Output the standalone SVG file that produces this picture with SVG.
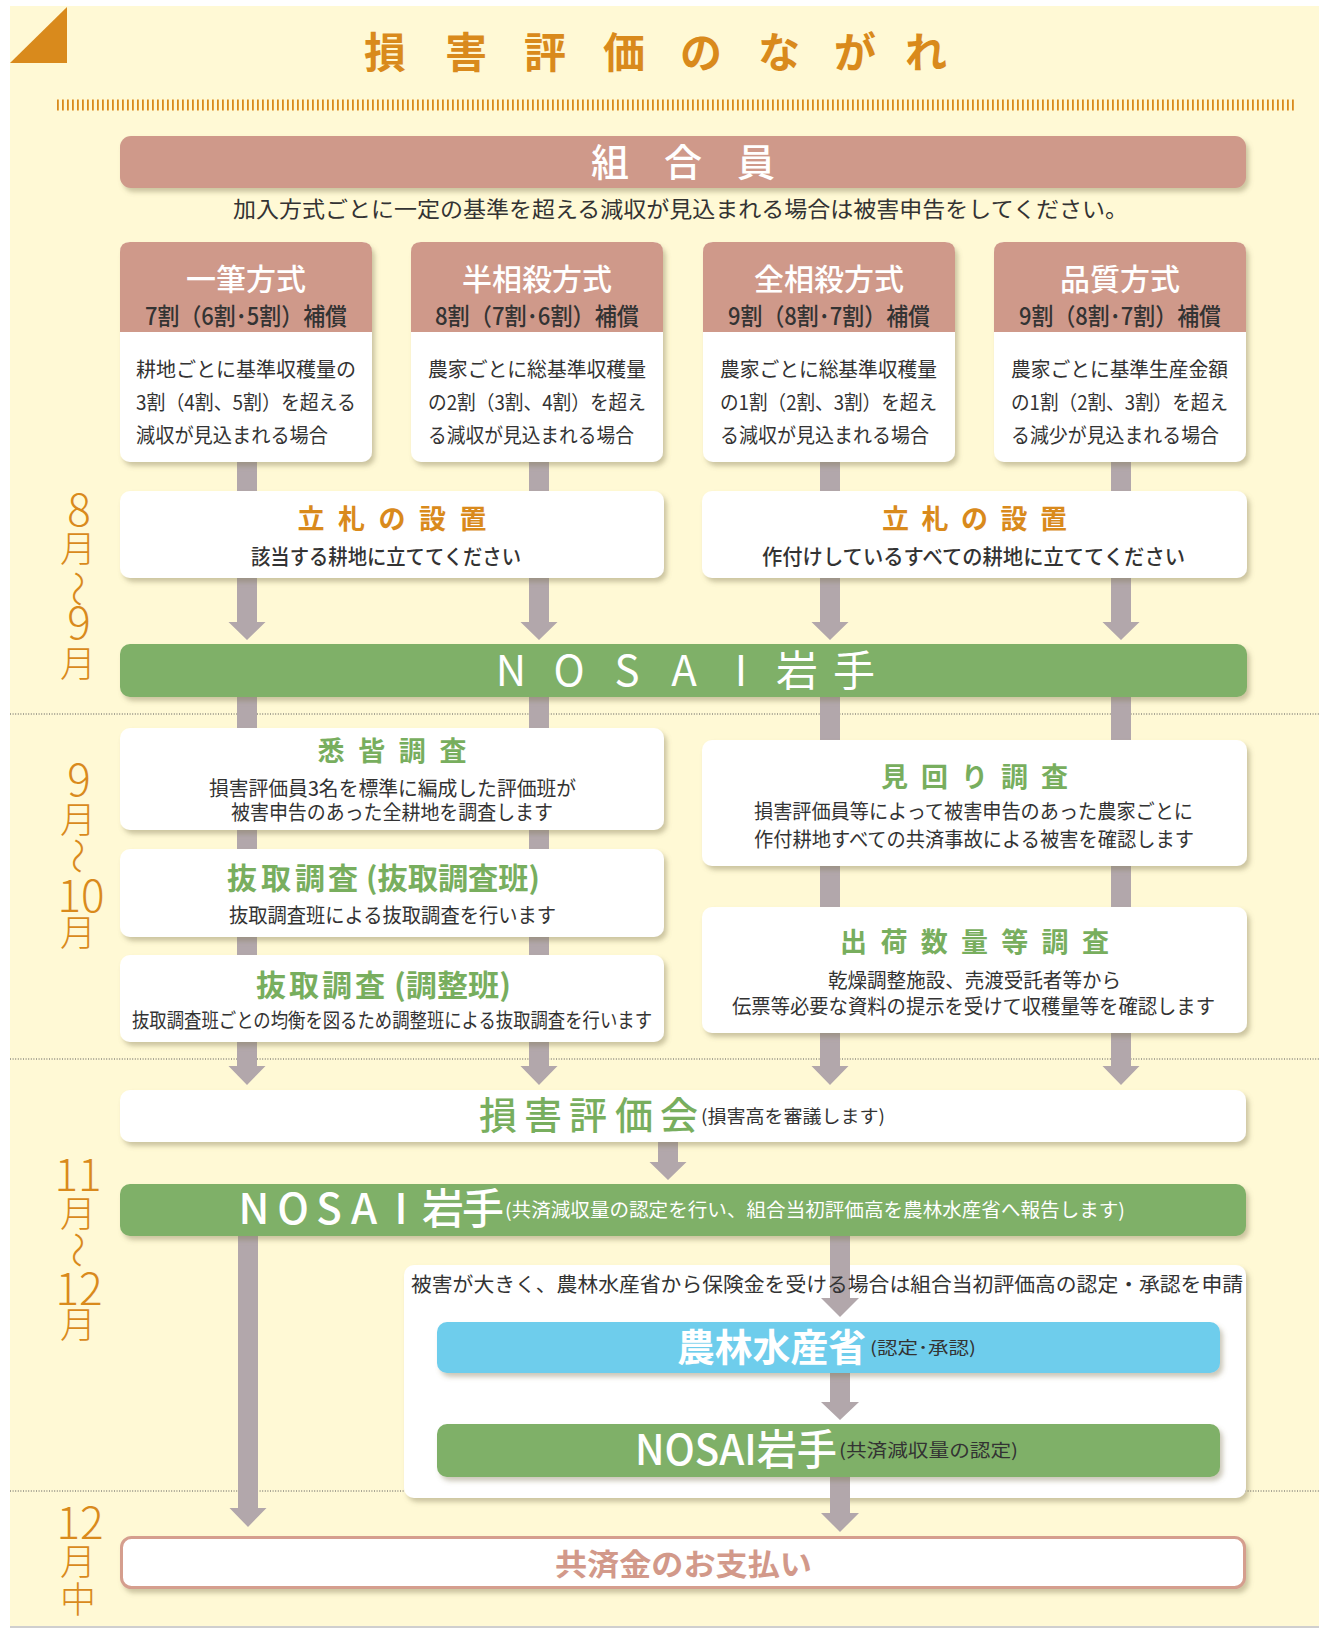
<svg xmlns="http://www.w3.org/2000/svg" width="1319" height="1630" viewBox="0 0 1319 1630">
<defs>
<filter id="sh" x="-5%" y="-20%" width="110%" height="160%">
<feDropShadow dx="3" dy="4" stdDeviation="2.5" flood-color="#7d7350" flood-opacity="0.4"/>
</filter>
<style>
text{font-family:"Noto Sans CJK JP","Noto Sans",sans-serif}
.nar{font-family:"Liberation Sans Narrow","Noto Sans CJK JP",sans-serif}
.wt{fill:#fff}
.dk{fill:#333}
.or{fill:#D98A1C}
.gr{fill:#78AE5E}
.c{text-anchor:middle}
.arr{fill:#B2A7AB}
.mo{fill:#D98A1C;font-weight:300;text-anchor:middle}
.sep{stroke:#555;stroke-width:1;stroke-dasharray:1 1.6}
.box{fill:#fff;filter:url(#sh)}
.sal{fill:#CF998A}
.grn{fill:#7FB068;filter:url(#sh)}
</style>
</defs>
<rect width="1319" height="1630" fill="#fff"/>
<rect x="10" y="6" width="1309" height="1621" fill="#FFF9D5"/>
<line x1="10" y1="1627" x2="1319" y2="1627" stroke="#cfcfcf" stroke-width="2"/>
<polygon points="10,63 67,7 67,63" fill="#D98A1C"/>
<g id="title">
<text class="or c" x="385 466 545 624 701 779 855 926" y="68" font-size="42" font-weight="700">損害評価のながれ</text>
<line x1="57" y1="105" x2="1296" y2="105" stroke="#D98A1C" stroke-width="11" stroke-dasharray="1.8 3.2"/>
</g>
<g id="separators">
<line class="sep" x1="10" y1="714" x2="1319" y2="714"/>
<line class="sep" x1="10" y1="1059" x2="1319" y2="1059"/>
<line class="sep" x1="10" y1="1491" x2="1319" y2="1491"/>
</g>
<g id="months">
<text class="mo" font-size="36"><tspan x="79" y="526" font-size="44">8</tspan><tspan x="78" y="562">月</tspan><tspan x="82" y="571" rotate="90">〜</tspan><tspan x="79" y="639" font-size="44">9</tspan><tspan x="78" y="677">月</tspan></text>
<text class="mo" font-size="36"><tspan x="79" y="796" font-size="44">9</tspan><tspan x="78" y="833">月</tspan><tspan x="82" y="838" rotate="90">〜</tspan><tspan x="81" y="912" font-size="44">10</tspan><tspan x="78" y="946">月</tspan></text>
<text class="mo" font-size="36"><tspan x="78" y="1191" font-size="44">11</tspan><tspan x="78" y="1227">月</tspan><tspan x="82" y="1232" rotate="90">〜</tspan><tspan x="79" y="1305" font-size="44">12</tspan><tspan x="78" y="1338">月</tspan></text>
<text class="mo" font-size="36"><tspan x="80" y="1539" font-size="44">12</tspan><tspan x="78" y="1575">月</tspan><tspan x="78" y="1613">中</tspan></text>
</g>

<g id="n-member">
<rect x="120" y="136" width="1126" height="52" rx="11" class="sal" filter="url(#sh)"/>
<text class="wt c" x="610 683 756" y="176" font-size="38" font-weight="500">組合員</text>
<text class="dk" x="233" y="217" font-size="22" textLength="895" lengthAdjust="spacingAndGlyphs">加入方式ごとに一定の基準を超える減収が見込まれる場合は被害申告をしてください。</text>
</g>

<g id="n-panel">
<rect x="404" y="1265" width="842" height="233" rx="10" class="box"/>
</g>

<g id="connectors">
<path class="arr" d="M237,462H257V622H265.5L247,640L228.5,622H237Z"/>
<path class="arr" d="M529,462H549V622H557.5L539,640L520.5,622H529Z"/>
<path class="arr" d="M820,462H840V622H848.5L830,640L811.5,622H820Z"/>
<path class="arr" d="M1111,462H1131V622H1139.5L1121,640L1102.5,622H1111Z"/>
<path class="arr" d="M237,697H257V1066H265.5L247,1085L228.5,1066H237Z"/>
<path class="arr" d="M529,697H549V1066H557.5L539,1085L520.5,1066H529Z"/>
<path class="arr" d="M820,697H840V1066H848.5L830,1085L811.5,1066H820Z"/>
<path class="arr" d="M1111,697H1131V1066H1139.5L1121,1085L1102.5,1066H1111Z"/>
<path class="arr" d="M658,1142H678V1162H686.5L668,1180L649.5,1162H658Z"/>
<path class="arr" d="M238,1236H258V1508H266.5L248,1527L229.5,1508H238Z"/>
<path class="arr" d="M830,1236H850V1298H859L840,1317L821,1298H830Z"/>
<path class="arr" d="M830,1373H850V1402H859L840,1420L821,1402H830Z"/>
<path class="arr" d="M830,1477H850V1513H859L840,1532L821,1513H830Z"/>
</g>

<g id="n-panel-label">
<text class="dk" x="411" y="1292" font-size="20" textLength="832" lengthAdjust="spacingAndGlyphs">被害が大きく、農林水産省から保険金を受ける場合は組合当初評価高の認定・承認を申請</text>
</g>

<g id="n-ippitsu">
<rect x="120" y="242" width="252" height="220" rx="10" class="box"/>
<path class="sal" d="M120,332V252Q120,242 130,242H362Q372,242 372,252V332Z"/>
<text class="wt c" x="246" y="290" font-size="30" font-weight="500">一筆方式</text>
<text class="dk c" x="246" y="325" font-size="24" font-weight="500" textLength="202" lengthAdjust="spacingAndGlyphs">7割（6割･5割）補償</text>
<text class="dk" x="136" y="377" font-size="20" textLength="220" lengthAdjust="spacingAndGlyphs">耕地ごとに基準収穫量の</text>
<text class="dk" x="136" y="410" font-size="20" textLength="220" lengthAdjust="spacingAndGlyphs">3割（4割、5割）を超える</text>
<text class="dk" x="136" y="443" font-size="20" textLength="192" lengthAdjust="spacingAndGlyphs">減収が見込まれる場合</text>
</g>
<g id="n-hansousai">
<rect x="411" y="242" width="252" height="220" rx="10" class="box"/>
<path class="sal" d="M411,332V252Q411,242 421,242H653Q663,242 663,252V332Z"/>
<text class="wt c" x="537" y="290" font-size="30" font-weight="500">半相殺方式</text>
<text class="dk c" x="537" y="325" font-size="24" font-weight="500" textLength="204" lengthAdjust="spacingAndGlyphs">8割（7割･6割）補償</text>
<text class="dk" x="428" y="377" font-size="20" textLength="218" lengthAdjust="spacingAndGlyphs">農家ごとに総基準収穫量</text>
<text class="dk" x="428" y="410" font-size="20" textLength="218" lengthAdjust="spacingAndGlyphs">の2割（3割、4割）を超え</text>
<text class="dk" x="428" y="443" font-size="20" textLength="206" lengthAdjust="spacingAndGlyphs">る減収が見込まれる場合</text>
</g>
<g id="n-zensousai">
<rect x="703" y="242" width="252" height="220" rx="10" class="box"/>
<path class="sal" d="M703,332V252Q703,242 713,242H945Q955,242 955,252V332Z"/>
<text class="wt c" x="829" y="290" font-size="30" font-weight="500">全相殺方式</text>
<text class="dk c" x="829" y="325" font-size="24" font-weight="500" textLength="202" lengthAdjust="spacingAndGlyphs">9割（8割･7割）補償</text>
<text class="dk" x="720" y="377" font-size="20" textLength="217" lengthAdjust="spacingAndGlyphs">農家ごとに総基準収穫量</text>
<text class="dk" x="720" y="410" font-size="20" textLength="217" lengthAdjust="spacingAndGlyphs">の1割（2割、3割）を超え</text>
<text class="dk" x="720" y="443" font-size="20" textLength="209" lengthAdjust="spacingAndGlyphs">る減収が見込まれる場合</text>
</g>
<g id="n-hinshitsu">
<rect x="994" y="242" width="252" height="220" rx="10" class="box"/>
<path class="sal" d="M994,332V252Q994,242 1004,242H1236Q1246,242 1246,252V332Z"/>
<text class="wt c" x="1120" y="290" font-size="30" font-weight="500">品質方式</text>
<text class="dk c" x="1120" y="325" font-size="24" font-weight="500" textLength="202" lengthAdjust="spacingAndGlyphs">9割（8割･7割）補償</text>
<text class="dk" x="1011" y="377" font-size="20" textLength="217" lengthAdjust="spacingAndGlyphs">農家ごとに基準生産金額</text>
<text class="dk" x="1011" y="410" font-size="20" textLength="217" lengthAdjust="spacingAndGlyphs">の1割（2割、3割）を超え</text>
<text class="dk" x="1011" y="443" font-size="20" textLength="208" lengthAdjust="spacingAndGlyphs">る減少が見込まれる場合</text>
</g>

<g id="n-tatefuda1">
<rect x="120" y="491" width="544" height="87" rx="10" class="box"/>
<text class="or c" x="311 351.5 392 432.5 473" y="529" font-size="27" font-weight="700">立札の設置</text>
<text class="dk c" x="386" y="564" font-size="21" font-weight="500" textLength="270" lengthAdjust="spacingAndGlyphs">該当する耕地に立ててください</text>
</g>
<g id="n-tatefuda2">
<rect x="702" y="491" width="545" height="87" rx="10" class="box"/>
<text class="or c" x="895.5 935 974.5 1014 1053.5" y="529" font-size="27" font-weight="700">立札の設置</text>
<text class="dk c" x="973.5" y="564" font-size="21" font-weight="500" textLength="423" lengthAdjust="spacingAndGlyphs">作付けしているすべての耕地に立ててください</text>
</g>

<g id="n-nosai1">
<rect x="120" y="644" width="1127" height="53" rx="10" class="grn"/>
<text class="wt c nar" x="511 569 627 684 741 797 854" y="686" font-size="42">NOSAI岩手</text>
</g>

<g id="n-shikkai">
<rect x="120" y="728" width="544" height="102" rx="10" class="box"/>
<text class="gr c" x="331 371.7 412.3 453" y="761" font-size="27" font-weight="700">悉皆調査</text>
<text class="dk c" x="392.5" y="795.5" font-size="20" textLength="367" lengthAdjust="spacingAndGlyphs">損害評価員3名を標準に編成した評価班が</text>
<text class="dk c" x="392" y="819.5" font-size="20" textLength="322" lengthAdjust="spacingAndGlyphs">被害申告のあった全耕地を調査します</text>
</g>
<g id="n-nukitori1">
<rect x="120" y="849" width="544" height="88" rx="10" class="box"/>
<text class="gr c" x="242 276 310 343" y="889" font-size="30" font-weight="700">抜取調査</text>
<text class="gr" x="366" y="889" font-size="30" font-weight="700" textLength="174" lengthAdjust="spacingAndGlyphs">(抜取調査班)</text>
<text class="dk c" x="392.5" y="922.5" font-size="20" textLength="327" lengthAdjust="spacingAndGlyphs">抜取調査班による抜取調査を行います</text>
</g>
<g id="n-nukitori2">
<rect x="120" y="955" width="544" height="87" rx="10" class="box"/>
<text class="gr c" x="271 304 337 370" y="996" font-size="30" font-weight="700">抜取調査</text>
<text class="gr" x="394" y="996" font-size="30" font-weight="700" textLength="117" lengthAdjust="spacingAndGlyphs">(調整班)</text>
<text class="dk c" x="392" y="1027.5" font-size="20" textLength="520" lengthAdjust="spacingAndGlyphs">抜取調査班ごとの均衡を図るため調整班による抜取調査を行います</text>
</g>
<g id="n-mimawari">
<rect x="702" y="740" width="545" height="126" rx="10" class="box"/>
<text class="gr c" x="894.5 934.5 974.5 1014.5 1054.5" y="787" font-size="27" font-weight="700">見回り調査</text>
<text class="dk c" x="973.5" y="818.5" font-size="20" textLength="439" lengthAdjust="spacingAndGlyphs">損害評価員等によって被害申告のあった農家ごとに</text>
<text class="dk c" x="974" y="846.5" font-size="20" textLength="440" lengthAdjust="spacingAndGlyphs">作付耕地すべての共済事故による被害を確認します</text>
</g>
<g id="n-shukka">
<rect x="702" y="907" width="545" height="126" rx="10" class="box"/>
<text class="gr c" x="853.6 893.9 934.2 974.5 1014.8 1055.1 1095.4" y="952" font-size="27" font-weight="700">出荷数量等調査</text>
<text class="dk c" x="974.5" y="987.5" font-size="20" textLength="293" lengthAdjust="spacingAndGlyphs">乾燥調整施設、売渡受託者等から</text>
<text class="dk c" x="973.5" y="1013.5" font-size="20" textLength="483" lengthAdjust="spacingAndGlyphs">伝票等必要な資料の提示を受けて収穫量等を確認します</text>
</g>

<g id="n-hyoukakai">
<rect x="120" y="1090" width="1126" height="52" rx="10" class="box"/>
<text class="gr c" x="498 543 588 634 679" y="1129" font-size="38" font-weight="500">損害評価会</text>
<text class="dk" x="701" y="1123" font-size="18" textLength="184" lengthAdjust="spacingAndGlyphs">(損害高を審議します)</text>
</g>
<g id="n-nosai2">
<rect x="120" y="1184" width="1126" height="52" rx="10" class="grn"/>
<text class="wt c nar" x="254 293 329 364 401 443 483" y="1224" font-size="42" font-weight="500">NOSAI岩手</text>
<text class="wt" x="505" y="1217" font-size="19" textLength="620" lengthAdjust="spacingAndGlyphs">(共済減収量の認定を行い、組合当初評価高を農林水産省へ報告します)</text>
</g>
<g id="n-maff">
<rect x="437" y="1322" width="783" height="51" rx="10" fill="#6ECDEC" filter="url(#sh)"/>
<text class="wt" x="677" y="1361" font-size="38" font-weight="700" textLength="189" lengthAdjust="spacingAndGlyphs">農林水産省</text>
<text class="dk" x="870" y="1354" font-size="17" textLength="106" lengthAdjust="spacingAndGlyphs">(認定･承認)</text>
</g>
<g id="n-nosai3">
<rect x="437" y="1424" width="783" height="53" rx="10" class="grn"/>
<text class="wt nar" x="635" y="1465" font-size="42" font-weight="500" textLength="202" lengthAdjust="spacingAndGlyphs">NOSAI岩手</text>
<text class="dk" x="839" y="1457" font-size="18" textLength="179" lengthAdjust="spacingAndGlyphs">(共済減収量の認定)</text>
</g>
<g id="n-payment">
<rect x="121.5" y="1537.5" width="1123" height="50" rx="10" fill="#fff" stroke="#D59E8E" stroke-width="3" filter="url(#sh)"/>
<text class="c" x="683.5" y="1575" font-size="30" font-weight="700" fill="#D2998A" textLength="257" lengthAdjust="spacingAndGlyphs">共済金のお支払い</text>
</g>
</svg>
